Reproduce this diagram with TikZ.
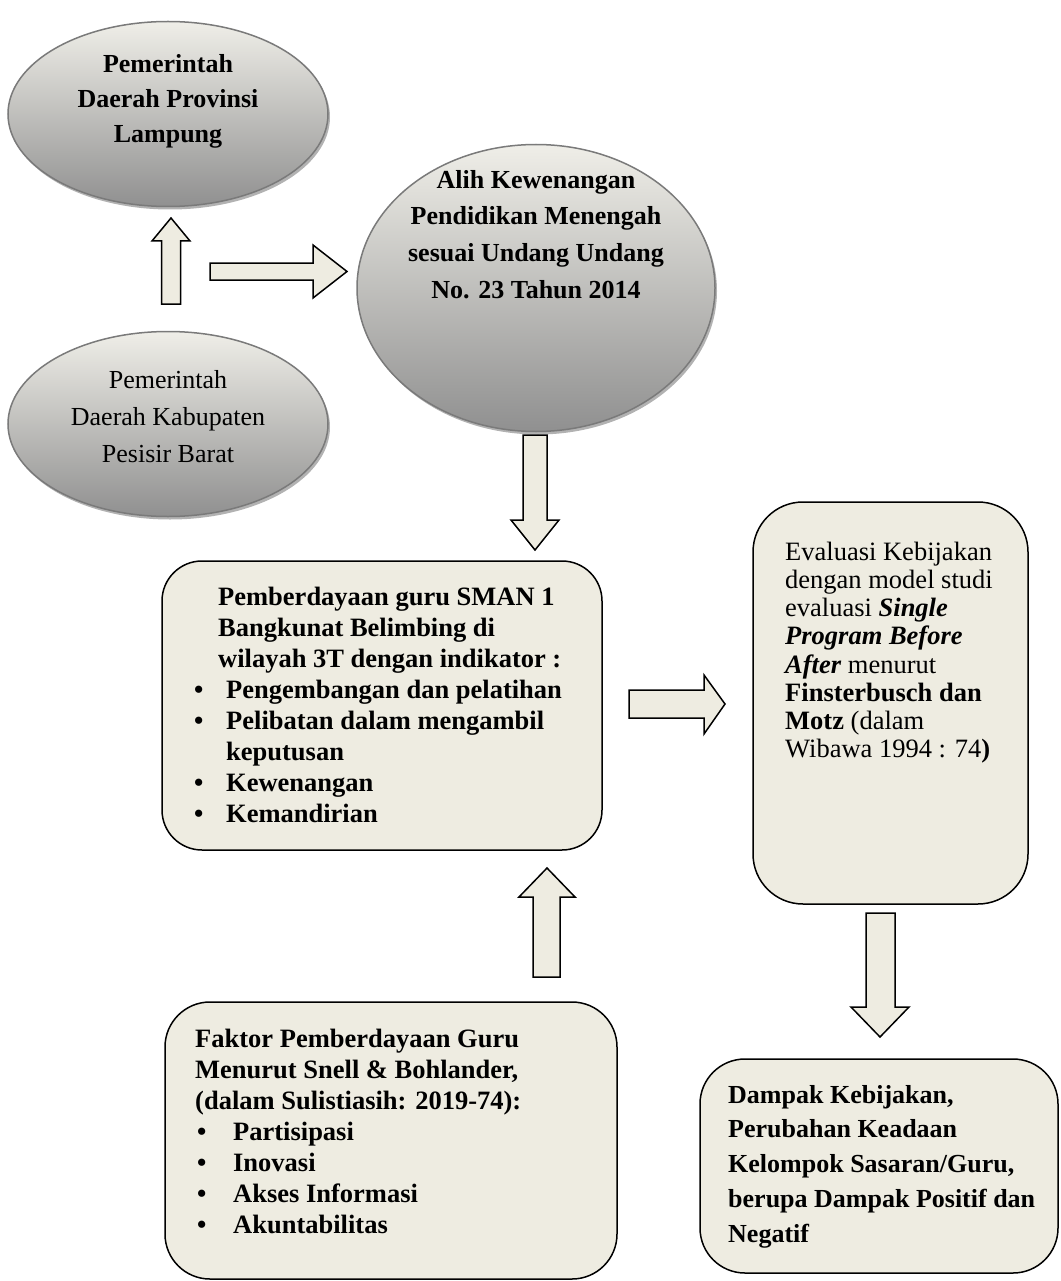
\documentclass[tikz,border=0pt]{standalone}
\usepackage{fontspec}
\setmainfont{Liberation Serif}
\usetikzlibrary{shapes.geometric,shadows}
\definecolor{boxfill}{HTML}{EEECE1}
\definecolor{ellTop}{HTML}{EFEEE8}
\definecolor{ellBot}{HTML}{909090}
\definecolor{ellLine}{HTML}{7A7A7A}
\newcommand\fl{\rule{0pt}{20pt}}
\begin{document}
\begin{tikzpicture}[x=1pt,y=-1pt,
  ell/.style={ellipse, draw=ellLine, line width=1.5pt, top color=ellTop, bottom color=ellBot, inner sep=0pt,
    drop shadow={shadow xshift=2pt, shadow yshift=-3pt, opacity=0.3, fill=black}},
  rbox/.style={draw=black, line width=1.5pt, fill=boxfill, rounded corners=#1, inner sep=0pt},
  barrow/.style={draw=black, line width=1.5pt, fill=boxfill, line join=miter},
  txt/.style={inner sep=0pt, anchor=north west, align=left},
  ctxt/.style={inner sep=0pt, anchor=north, align=center},
]
\useasboundingbox (0,0) rectangle (1060,1281);
\fill[white] (0,0) rectangle (1060,1281);

% ellipses (text: first baseline = given y + 20)
\node[ell, minimum width=320pt, minimum height=185pt] (e1) at (168,114) {};
\node[ctxt, font=\fontsize{26}{35}\selectfont\bfseries] (e1t) at (168,52) {\fl Pemerintah\\Daerah Provinsi\\Lampung};

\node[ell, minimum width=358pt, minimum height=287pt] (e2) at (536,288) {};
\node[ctxt, font=\fontsize{26}{36.7}\selectfont\bfseries] (e2t) at (536,168) {\fl Alih Kewenangan\\Pendidikan Menengah\\sesuai Undang Undang\\No. 23 Tahun 2014};

\node[ell, minimum width=320pt, minimum height=185pt] (e3) at (168,424) {};
\node[ctxt, font=\fontsize{26}{37}\selectfont] (e3t) at (168,368) {\fl Pemerintah\\Daerah Kabupaten\\Pesisir Barat};

% boxes
\node[rbox=40pt, minimum width=440pt, minimum height=289pt] (b1) at (382,705.5) {};
\node[txt, font=\fontsize{26.5}{31}\selectfont\bfseries] (b1t) at (194,585) {%
\fl\hspace*{24pt}Pemberdayaan guru SMAN 1\\
\hspace*{24pt}Bangkunat Belimbing di\\
\hspace*{24pt}wilayah 3T dengan indikator :\\
\makebox[32pt][l]{•}Pengembangan dan pelatihan\\
\makebox[32pt][l]{•}Pelibatan dalam mengambil\\
\hspace*{32pt}keputusan\\
\makebox[32pt][l]{•}Kewenangan\\
\makebox[32pt][l]{•}Kemandirian};

\node[rbox=50pt, minimum width=275pt, minimum height=402pt] (b2) at (890.5,703) {};
\node[txt, font=\fontsize{26.5}{28.2}\selectfont] (b2t) at (785,540) {%
\fl Evaluasi Kebijakan\\
dengan model studi\\
evaluasi \textbf{\textit{Single}}\\
\textbf{\textit{Program Before}}\\
\textbf{\textit{After}} menurut\\
\textbf{Finsterbusch dan}\\
\textbf{Motz} (dalam\\
Wibawa 1994 : 74\textbf{)}};

\node[rbox=45pt, minimum width=358pt, minimum height=214pt] (b3) at (879,1166) {};
\node[txt, font=\fontsize{26}{34.75}\selectfont\bfseries] (b3t) at (728,1083) {%
\fl Dampak Kebijakan,\\
Perubahan Keadaan\\
Kelompok Sasaran/Guru,\\
berupa Dampak Positif dan\\
Negatif};

\node[rbox=45pt, minimum width=452pt, minimum height=277pt] (b4) at (391,1140.5) {};
\node[txt, font=\fontsize{26.5}{31}\selectfont\bfseries] (b4t) at (195,1027) {%
\fl Faktor Pemberdayaan Guru\\
Menurut Snell \& Bohlander,\\
(dalam Sulistiasih: 2019-74):\\
\makebox[38pt][l]{\hspace{2pt}•}Partisipasi\\
\makebox[38pt][l]{\hspace{2pt}•}Inovasi\\
\makebox[38pt][l]{\hspace{2pt}•}Akses Informasi\\
\makebox[38pt][l]{\hspace{2pt}•}Akuntabilitas};

% block arrows
\draw[barrow] (161.5,304) -- (161.5,241) -- (152,241) -- (171,218) -- (190,241) -- (180.5,241) -- (180.5,304) -- cycle;
\draw[barrow] (210,263) -- (313,263) -- (313,245) -- (347,271.5) -- (313,298) -- (313,280) -- (210,280) -- cycle;
\draw[barrow] (523,435) -- (547,435) -- (547,520) -- (559,520) -- (535,550) -- (511,520) -- (523,520) -- cycle;
\draw[barrow] (629,690) -- (704,690) -- (704,675) -- (725,704) -- (704,734) -- (704,718) -- (629,718) -- cycle;
\draw[barrow] (533,977) -- (533,897) -- (519,897) -- (547,868) -- (575,897) -- (560,897) -- (560,977) -- cycle;
\draw[barrow] (866,913) -- (895,913) -- (895,1007) -- (909,1007) -- (880,1037) -- (851,1007) -- (866,1007) -- cycle;
\end{tikzpicture}
\end{document}
